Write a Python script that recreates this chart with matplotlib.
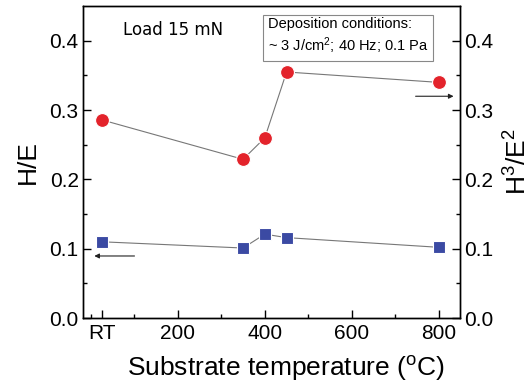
import matplotlib
matplotlib.use('Agg')
import matplotlib.pyplot as plt
from matplotlib.ticker import FixedLocator

plt.rcParams['font.family'] = ['Liberation Sans', 'DejaVu Sans']

temps = [25, 350, 400, 450, 800]
h_e = [0.110, 0.101, 0.121, 0.116, 0.102]
h3_e2 = [0.286, 0.229, 0.260, 0.355, 0.340]

xticks = [25, 200, 400, 600, 800]
xticklabels = ['RT', '200', '400', '600', '800']
xminor = [0, 100, 300, 500, 700]
yticks = [0.0, 0.1, 0.2, 0.3, 0.4]

fig = plt.figure(figsize=(5.31, 3.85), dpi=100)
ax = fig.add_axes([0.156, 0.174, 0.71, 0.81])
ax2 = ax.twinx()

ax.plot(temps, h_e, color='#777777', lw=0.8, marker='s', ms=8.5,
        mfc='#3b4aa3', mec='white', mew=0.8, zorder=3)
ax2.plot(temps, h3_e2, color='#777777', lw=0.8, marker='o', ms=10,
         mfc='#e3232b', mec='white', mew=0.8, zorder=3)

for a in (ax, ax2):
    a.set_xlim(-18, 848)
    a.set_ylim(0, 0.45)
    a.set_yticks(yticks)
    a.yaxis.set_minor_locator(FixedLocator([0.05, 0.15, 0.25, 0.35]))
    a.tick_params(which='both', direction='in', labelsize=15)
    a.tick_params(which='major', length=6, width=1)
    a.tick_params(which='minor', length=3, width=1)
    for s in a.spines.values():
        s.set_linewidth(1)

ax.set_yticklabels(['0.0', '0.1', '0.2', '0.3', '0.4'])
ax2.set_yticklabels(['0.0', '0.1', '0.2', '0.3', '0.4'])
ax.set_xticks(xticks)
ax.set_xticklabels(xticklabels)
ax.xaxis.set_minor_locator(FixedLocator(xminor))
ax.tick_params(axis='x', top=False, pad=4)
ax.tick_params(axis='y', pad=3)
ax2.tick_params(axis='y', pad=3)

ax.set_xlabel('Substrate temperature ($\\mathregular{^{o}}$C)', fontsize=19)
ax.xaxis.set_label_coords(0.54, -0.115)
ax.set_ylabel('H/E', fontsize=19, labelpad=7)
ax2.set_ylabel('H$\\mathregular{^{3}}$/E$\\mathregular{^{2}}$', fontsize=19, labelpad=8)

# arrows pointing at the relevant axis
ax.annotate('', xy=(2, 0.0895), xytext=(107, 0.0895),
            arrowprops=dict(arrowstyle='-|>', color='#222222', lw=0.8, mutation_scale=7))
ax2.annotate('', xy=(840, 0.32), xytext=(740, 0.32),
             arrowprops=dict(arrowstyle='-|>', color='#222222', lw=0.8, mutation_scale=7))

ax.text(75, 0.416, 'Load 15 mN', fontsize=12, va='center', ha='left',
        family=['DejaVu Sans'])
ax2.text(0.49, 0.965, 'Deposition conditions:\n~ 3 J/cm$\\mathregular{^{2}}$; 40 Hz; 0.1 Pa',
         transform=ax2.transAxes, fontsize=10.5, va='top', ha='left', linespacing=1.3,
         bbox=dict(boxstyle='square,pad=0.3', fc='white', ec='#888888', lw=0.8))

fig.savefig('out.png', dpi=100)
